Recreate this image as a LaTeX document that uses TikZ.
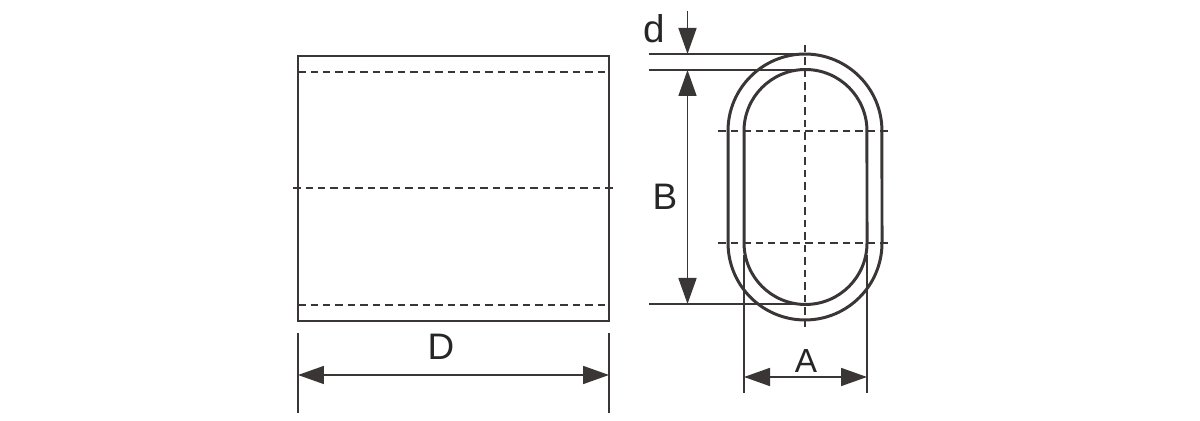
\documentclass[tikz,border=0pt]{standalone}
\usepackage{fontspec}
\setmainfont{Liberation Sans}
\usetikzlibrary{arrows.meta}
\definecolor{inkline}{HTML}{3A3636}
\tikzset{
	outline/.style={line width=1.7pt,color=inkline},
	thinline/.style={line width=0.9pt,color=inkline},
	centerline/.style={line width=1.1pt,color=inkline,dash pattern=on 0.15cm off 0.1cm},
	dimline/.style={line width=1pt,color=inkline,{Triangle[length=0.52cm,width=0.36cm]}-{Triangle[length=0.52cm,width=0.36cm]}},
	dimend/.style={line width=1pt,color=inkline,-{Triangle[length=0.52cm,width=0.36cm]}},
	dimlabel/.style={inner sep=0pt,color=black!85}
}
\begin{document}
\begin{tikzpicture}[x=0.02cm,y=-0.02cm]
	\useasboundingbox (0,0) rectangle (1200,421);
	
	% side view
	\draw[outline,line width=1.4pt] (298,56) rectangle (609,321);
	\draw[centerline] (298,72) -- (609,72);
	\draw[centerline] (293,188) -- (614,188);
	\draw[centerline] (298,305) -- (609,305);
	
	% dimension D
	\coordinate (dl1) at (298,333); \coordinate (dl2) at (298,413);
	\coordinate (dr1) at (609,333); \coordinate (dr2) at (609,413);
	\coordinate (dleft) at (298,375); \coordinate (dright) at (609,375);
	\draw[thinline] (dl1) -- (dl2);
	\draw[thinline] (dr1) -- (dr2);
	\draw[dimline] (dleft) -- (dright);
	\node[dimlabel,font=\fontsize{21}{21}\selectfont] (labelD) at (441,347) {D};
	
	% end view
	\draw[outline] (728,131) arc[start angle=180,end angle=0,radius=1.54cm] -- (882,243)
		arc[start angle=0,end angle=-180,radius=1.54cm] -- cycle;
	\draw[outline] (744,131) arc[start angle=180,end angle=0,radius=1.23cm] -- (867,243)
		arc[start angle=0,end angle=-180,radius=1.23cm] -- cycle;
	\draw[centerline] (805,45) -- (805,329);
	\draw[centerline] (718,131) -- (891,131);
	\draw[centerline] (718,243) -- (891,243);
	
	% dimensions d and B
	\coordinate (top1) at (649,54); \coordinate (top2) at (797,54);
	\coordinate (mid1) at (649,70); \coordinate (mid2) at (800,70);
	\coordinate (low1) at (649,304); \coordinate (low2) at (795,304);
	\coordinate (arrowd) at (687.5,11); \coordinate (tipd) at (687.5,54);
	\coordinate (tipB) at (687.5,70); \coordinate (tipC) at (687.5,304);
	\draw[thinline] (top1) -- (top2);
	\draw[thinline] (mid1) -- (mid2);
	\draw[outline,line width=1.3pt] (low1) -- (low2);
	\draw[dimend] (arrowd) -- (tipd);
	\draw[dimline] (tipB) -- (tipC);
	\node[dimlabel,font=\fontsize{22}{22}\selectfont] (labeld) at (654,29) {d};
	\node[dimlabel,font=\fontsize{21}{21}\selectfont] (labelB) at (665,197) {B};
	
	% dimension A
	\coordinate (al1) at (744,255); \coordinate (al2) at (744,393);
	\coordinate (ar1) at (867,255); \coordinate (ar2) at (867,393);
	\coordinate (aleft) at (744,377); \coordinate (aright) at (867,377);
	\draw[thinline] (al1) -- (al2);
	\draw[thinline] (ar1) -- (ar2);
	\draw[dimline] (aleft) -- (aright);
	\node[dimlabel,font=\fontsize{19}{19}\selectfont] (labelA) at (806,361) {A};
	
\end{tikzpicture}
\end{document}
